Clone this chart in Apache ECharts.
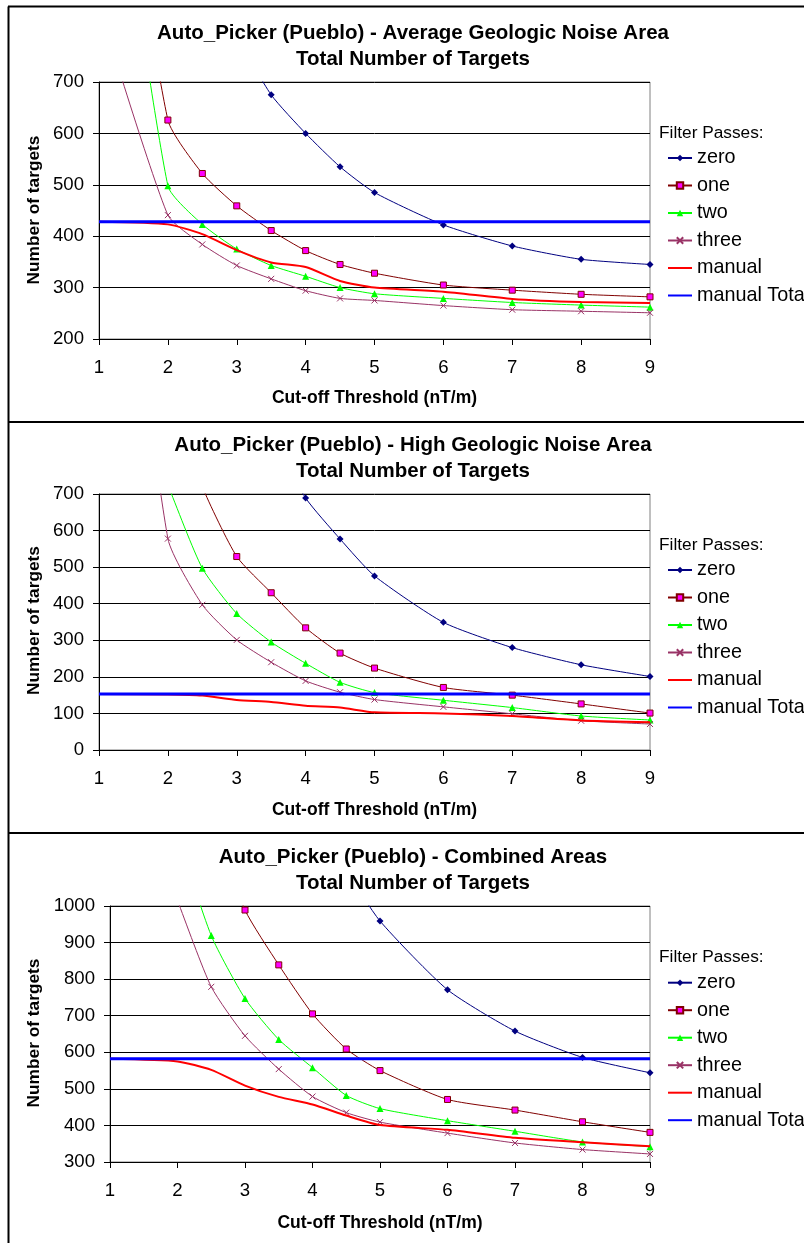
<!DOCTYPE html>
<html>
<head>
<meta charset="utf-8">
<script src="https://cdn.jsdelivr.net/npm/echarts@6/dist/echarts.min.js"></script>
<style>
html,body{margin:0;padding:0;background:#fff;}
#chart{width:804px;height:1243px;}
</style>
</head>
<body>
<div id="chart"></div>
<script>
// ---------- DATA ----------
const xValues = [1, 2, 2.5, 3, 3.5, 4, 4.5, 5, 6, 7, 8, 9];
const xTicks = [1, 2, 3, 4, 5, 6, 7, 8, 9];
const seriesNames = ['zero', 'one', 'two', 'three', 'manual', 'manual Total'];

const panelTitles = [
  'Auto_Picker (Pueblo) - Average Geologic Noise Area',
  'Auto_Picker (Pueblo) - High Geologic Noise Area',
  'Auto_Picker (Pueblo) - Combined Areas'
];
const subTitle = 'Total Number of Targets';
const xAxisName = 'Cut-off Threshold (nT/m)';
const yAxisName = 'Number of targets';
const legendTitle = 'Filter Passes:';

// Panel A: Average Geologic Noise Area
const zeroA   = [1600, 1100, 920, 790, 675, 600, 535, 485, 422, 381, 355, 345];
const oneA    = [1450, 626, 522, 459, 411, 372, 345, 328, 305, 295, 287, 282];
const twoA    = [1390, 498, 423, 375, 343, 322, 300, 288, 279, 271, 266, 262];
const threeA  = [850, 441, 384, 343, 317, 294, 279, 275, 265, 257, 254, 251];
const manualA = [428, 423, 404, 373, 349, 340, 313, 300, 292, 278, 272, 270];
const manualTotalA = [428, 428, 428, 428, 428, 428, 428, 428, 428, 428, 428, 428];

// Panel B: High Geologic Noise Area
const zeroB   = [2600, 1500, 1200, 1000, 860, 689, 577, 476, 349, 280, 233, 201];
const oneB    = [1600, 1000, 720, 529, 430, 334, 265, 224, 171, 150, 126, 101];
const twoB    = [1200, 725, 497, 373, 295, 237, 185, 157, 136, 116, 93, 82];
const threeB  = [2000, 578, 397, 301, 240, 189, 158, 138, 118, 99, 80, 71];
const manualB = [153, 152, 149, 137, 131, 121, 116, 103, 100, 93, 81, 76];
const manualTotalB = [153, 153, 153, 153, 153, 153, 153, 153, 153, 153, 153, 153];

// Panel C: Combined Areas
const zeroC   = [3000, 2200, 1900, 1650, 1450, 1280, 1100, 959, 771, 658, 586, 544];
const oneC    = [2400, 1600, 1250, 989, 839, 705, 609, 550, 471, 442, 410, 381];
const twoC    = [1900, 1200, 919, 747, 635, 558, 482, 446, 413, 384, 355, 342];
const threeC  = [1500, 1015, 779, 645, 554, 479, 435, 409, 379, 352, 334, 322];
const manualC = [582, 575, 552, 509, 478, 457, 427, 401, 388, 366, 354, 343];
const manualTotalC = [582, 582, 582, 582, 582, 582, 582, 582, 582, 582, 582, 582];

const yRanges = [[200, 700, 100], [0, 700, 100], [300, 1000, 100]];

// ---------- LAYOUT / STYLE ----------
const FONT = "'Liberation Sans', Arial, sans-serif";
const layout = [
  { left: 99,  top: 82,  width: 551, height: 257, t1: 33,    t2: 59,    xName: 398,   yNameY: 210,  legTitle: 133,   legTop: 148 },
  { left: 99,  top: 494, width: 551, height: 256, t1: 445.7, t2: 471.7, xName: 810,   yNameY: 620.5, legTitle: 545,  legTop: 560 },
  { left: 110, top: 906, width: 540, height: 256, t1: 857.3, t2: 883.3, xName: 1223.3, yNameY: 1033, legTitle: 957.3, legTop: 972.7 }
];
const styles = [
  { color: '#000080', symbol: 'diamond', symbolSize: 7, itemStyle: { color: '#000080' }, width: 1 },
  { color: '#800000', symbol: 'rect', symbolSize: 6, itemStyle: { color: '#FF00FF', borderColor: '#800000', borderWidth: 1 }, width: 1 },
  { color: '#00FF00', symbol: 'triangle', symbolSize: 7, itemStyle: { color: '#00FF00' }, width: 1 },
  { color: '#993366', symbol: 'path://M0,0L10,10M10,0L0,10', symbolSize: 6, itemStyle: { color: '#993366', borderColor: '#993366', borderWidth: 1 }, width: 1 },
  { color: '#FF0000', symbol: 'none', width: 2 },
  { color: '#0000FF', symbol: 'none', width: 3 }
];
const panelData = [
  [zeroA, oneA, twoA, threeA, manualA, manualTotalA],
  [zeroB, oneB, twoB, threeB, manualB, manualTotalB],
  [zeroC, oneC, twoC, threeC, manualC, manualTotalC]
];

const grids = [], xAxes = [], yAxes = [], series = [], legends = [], graphics = [];

// frame lines
graphics.push({ type: 'line', shape: { x1: 8.5, y1: 6.5, x2: 8.5, y2: 1243 }, style: { stroke: '#000', lineWidth: 2 } });
[6.5, 422, 833].forEach(y => graphics.push({ type: 'line', shape: { x1: 8, y1: y, x2: 804, y2: y }, style: { stroke: '#000', lineWidth: 2 } }));

layout.forEach((L, p) => {
  grids.push({ left: L.left, top: L.top, width: L.width, height: L.height, show: true, borderColor: '#808080', borderWidth: 1, backgroundColor: 'transparent' });
  xAxes.push({
    type: 'value', gridIndex: p, min: xTicks[0], max: xTicks[xTicks.length - 1], interval: 1,
    axisLine: { show: true, lineStyle: { color: '#000', width: 1 } },
    axisTick: { show: true, inside: false, length: 6, lineStyle: { color: '#000' } },
    axisLabel: { margin: 19, fontSize: 18.6, color: '#000', fontFamily: FONT },
    splitLine: { show: false }
  });
  const yr = yRanges[p];
  yAxes.push({
    type: 'value', gridIndex: p, min: yr[0], max: yr[1], interval: yr[2],
    axisLine: { show: true, lineStyle: { color: '#000', width: 1 } },
    axisTick: { show: true, inside: false, length: 6, lineStyle: { color: '#000' } },
    axisLabel: { margin: 15, fontSize: 18.6, color: '#000', fontFamily: FONT, formatter: v => String(v) },
    splitLine: { show: true, lineStyle: { color: '#000', width: 1 } }
  });
  seriesNames.forEach((name, s) => {
    const st = styles[s];
    const vals = panelData[p][s];
    series.push({
      name: name, type: 'line', xAxisIndex: p, yAxisIndex: p,
      data: xValues.map((x, i) => [x, vals[i]]),
      clip: true,
      smooth: s === 5 ? false : 0.2,
      symbol: st.symbol, symbolSize: st.symbolSize || 0,
      showSymbol: st.symbol !== 'none',
      lineStyle: { color: st.color, width: st.width },
      itemStyle: st.itemStyle || { color: st.color },
      emphasis: { disabled: true },
      z: 2 + s
    });
  });
  legends.push({
    orient: 'vertical', left: 667, top: L.legTop, padding: 0,
    itemWidth: 24, itemHeight: 8, itemGap: 7.5,
    selectedMode: false,
    data: seriesNames.map((n, s) => styles[s].symbol === 'none'
      ? { name: n, itemStyle: { opacity: 0 } }
      : { name: n }),
    textStyle: { fontSize: 19.8, color: '#000', fontFamily: FONT, lineHeight: 20 }
  });
  // titles
  graphics.push({ type: 'text', x: 413, y: L.t1, style: { text: panelTitles[p], font: 'bold 20.5px ' + FONT, fill: '#000', textAlign: 'center', textVerticalAlign: 'middle' } });
  graphics.push({ type: 'text', x: 413, y: L.t2, style: { text: subTitle, font: 'bold 20.5px ' + FONT, fill: '#000', textAlign: 'center', textVerticalAlign: 'middle' } });
  // axis names
  graphics.push({ type: 'text', x: L.left + L.width / 2, y: L.xName, style: { text: xAxisName, font: 'bold 17.5px ' + FONT, fill: '#000', textAlign: 'center', textVerticalAlign: 'middle' } });
  graphics.push({ type: 'text', x: 34, y: L.yNameY, rotation: Math.PI / 2, style: { text: yAxisName, font: 'bold 17.3px ' + FONT, fill: '#000', textAlign: 'center', textVerticalAlign: 'middle' } });
  // legend title
  graphics.push({ type: 'text', x: 659, y: L.legTitle, style: { text: legendTitle, font: '17.3px ' + FONT, fill: '#000', textAlign: 'left', textVerticalAlign: 'middle' } });
});

const chart = echarts.init(document.getElementById('chart'), null, { renderer: 'canvas' });
chart.setOption({
  animation: false,
  backgroundColor: '#fff',
  grid: grids,
  xAxis: xAxes,
  yAxis: yAxes,
  legend: legends,
  series: series,
  graphic: { elements: graphics }
});
</script>
</body>
</html>
